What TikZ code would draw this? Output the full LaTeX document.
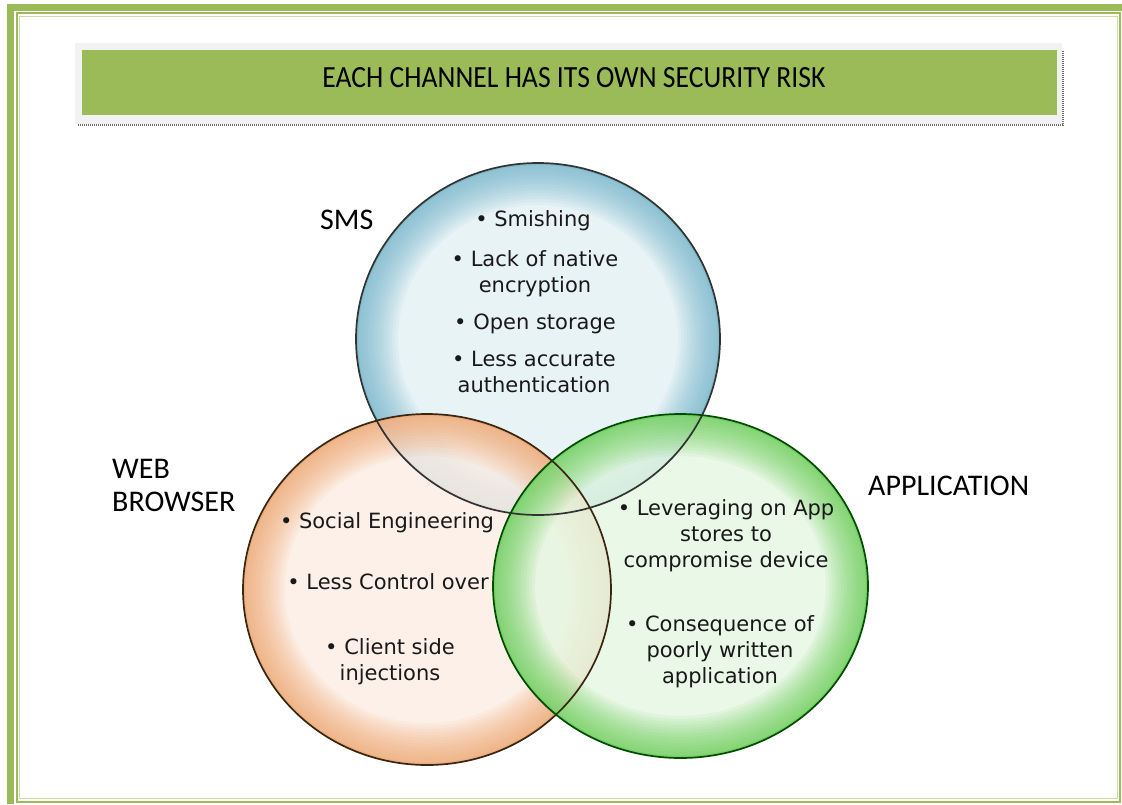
\documentclass[tikz,border=0pt]{standalone}
\usepackage{fontspec}
\usepackage{graphicx}
\setmainfont{Carlito}
\newfontfamily\itemfont{DejaVu Sans}

% page frame and title colours
\definecolor{framegreen}{HTML}{9BBB59}
\definecolor{framelight}{HTML}{C9DBA6}
\definecolor{titlegrey}{HTML}{F2F2F2}
\definecolor{shadowgrey}{HTML}{6E6E6E}
% bubble colours: body and rim
\definecolor{smsin}{HTML}{E4F1F5}
\definecolor{smsout}{HTML}{5FAAC4}
\definecolor{webin}{HTML}{FCEDE4}
\definecolor{webout}{HTML}{EE9858}
\definecolor{appin}{HTML}{E6F7E2}
\definecolor{appout}{HTML}{4EC638}

% a translucent bubble: pale body, rim that darkens towards the edge
% #1 = centre, #2 = x radius, #3 = y radius, #4 = body colour, #5 = rim colour
\newcommand\bubblefill[5]{%
  \begin{scope}
    \clip #1 ellipse [x radius=#2, y radius=#3];
    \fill[#4, fill opacity=0.82] #1 ellipse [x radius=#2, y radius=#3];
    \foreach \w in {84,78,...,6}
      \draw[#5, line width=\w pt, draw opacity=0.065] #1 ellipse [x radius=#2, y radius=#3];
    \draw[#5, line width=4pt, draw opacity=0.3] #1 ellipse [x radius=#2, y radius=#3];
  \end{scope}}

\begin{document}
\begin{tikzpicture}[x=1pt,y=-1pt,
  itemtext/.style={font=\itemfont\fontsize{21}{26}\selectfont, text=black!90, align=center, inner sep=0pt},
  setname/.style={font=\fontsize{30}{33}\selectfont, align=left, inner sep=0pt, anchor=west},
  ring/.style={draw=black!80, line width=1.7pt}]
\useasboundingbox (0,0) rectangle (1122,804);
\fill[white] (0,0) rectangle (1122,804);

% page frame
\fill[framegreen] (7,4) rectangle (14,804);
\fill[framegreen] (7,4) rectangle (1122,11);
\draw[framegreen, line width=1.5pt] (16.75,12.75) rectangle (1120,802);
\draw[framelight, line width=1pt] (19.5,16.5) rectangle (1117,798.5);

% title banner
\fill[titlegrey] (75,43) rectangle (1062,124);
\draw[shadowgrey, line width=2pt, dash pattern=on 1pt off 1pt] (78,124.5) -- (1063,124.5) -- (1063,50);
\node[fill=framegreen, minimum width=975pt, minimum height=65pt, inner sep=0pt] (title) at (569.5,82.5) {};
\node[inner sep=0pt, text=black] (titletext) at (574,77.5)
  {\resizebox{503pt}{20pt}{EACH CHANNEL HAS ITS OWN SECURITY RISK}};

% the three channel bubbles
\bubblefill{(538,339)}{182pt}{176pt}{smsin}{smsout}
\bubblefill{(427,589.5)}{184pt}{175.5pt}{webin}{webout}
\bubblefill{(680.5,586)}{187.5pt}{172pt}{appin}{appout}
\draw[ring] (538,339) ellipse [x radius=182pt, y radius=176pt];
\draw[ring, draw=black!70!brown] (427,589.5) ellipse [x radius=184pt, y radius=175.5pt];
\draw[ring, draw=black!70!green] (680.5,586) ellipse [x radius=187.5pt, y radius=172pt];

% channel names
\node[setname] (sms) at (320,219.5) {SMS};
\node[setname] (web) at (112,485) {WEB\\BROWSER};
\node[setname] (app) at (868,486) {APPLICATION};

% SMS risks
\node[itemtext] (smish) at (533,221) {• Smishing};
\node[itemtext] (native) at (535,274) {• Lack of native\\encryption};
\node[itemtext] (storage) at (535,323.5) {• Open storage};
\node[itemtext] (auth) at (534,372) {• Less accurate\\authentication};

% web browser risks
\node[itemtext] (social) at (387,523) {• Social Engineering};
\node[itemtext] (control) at (388,582) {• Less Control over};
\node[itemtext] (inject) at (390,662) {• Client side\\injections};

% application risks
\node[itemtext] (store) at (726,536) {• Leveraging on App\\stores to\\compromise device};
\node[itemtext] (poor) at (720,652) {• Consequence of\\poorly written\\application};
\end{tikzpicture}
\end{document}
